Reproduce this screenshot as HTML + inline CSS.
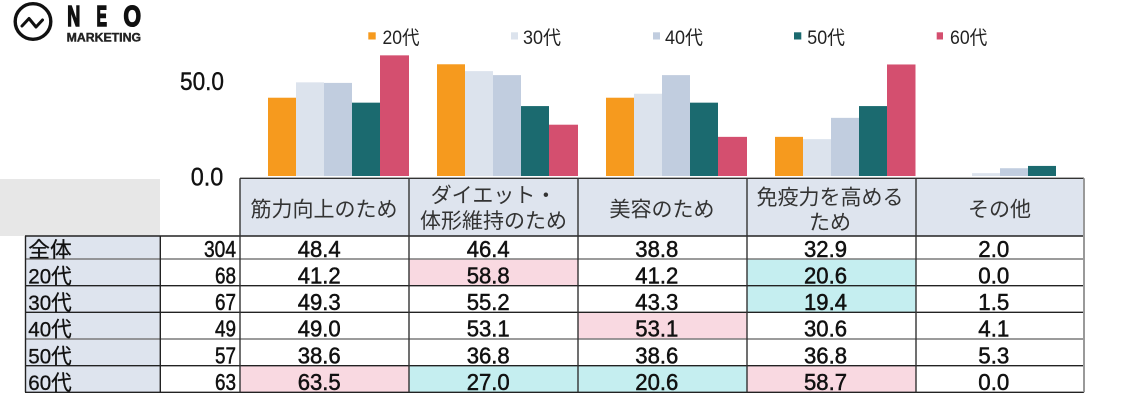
<!DOCTYPE html>
<html><head><meta charset="utf-8"><style>
html,body{margin:0;padding:0;background:#fff;}
svg{display:block;}
text{font-family:"Liberation Sans","Noto Sans CJK JP",sans-serif;}
</style></head><body>
<svg width="1124" height="400" viewBox="0 0 1124 400" xmlns="http://www.w3.org/2000/svg">
<rect x="0" y="0" width="1124" height="400" fill="#fff"/>
<!-- logo -->
<circle cx="33" cy="21.5" r="17.8" fill="none" stroke="#111" stroke-width="3.4"/>
<polyline points="22,26 29,18.5 36,27 42.5,20" fill="none" stroke="#111" stroke-width="3" stroke-linejoin="round" stroke-linecap="round"/>
<g fill="#111" stroke="#111" stroke-width="1.6" font-size="29" font-weight="bold">
<text x="67.3" y="26" textLength="13" lengthAdjust="spacingAndGlyphs">N</text>
<text x="96.5" y="26" textLength="10.5" lengthAdjust="spacingAndGlyphs">E</text>
<text x="123.5" y="26" textLength="17.5" lengthAdjust="spacingAndGlyphs">O</text>
</g>
<text x="66.7" y="41.7" font-size="11.8" font-weight="bold" fill="#222" stroke="#222" stroke-width="0.4" textLength="74.3" lengthAdjust="spacingAndGlyphs">MARKETING</text>

<!-- legend -->
<g font-size="19" fill="#222">
<rect x="368.3" y="32.3" width="7.4" height="7.2" fill="#F69A1E"/>
<text x="382.5" y="44" textLength="37" lengthAdjust="spacingAndGlyphs">20代</text>
<rect x="511" y="32.3" width="7" height="7.2" fill="#DCE3ED"/>
<text x="523" y="44" textLength="38" lengthAdjust="spacingAndGlyphs">30代</text>
<rect x="653" y="32.3" width="7" height="7.2" fill="#C1CDDF"/>
<text x="665" y="44" textLength="38" lengthAdjust="spacingAndGlyphs">40代</text>
<rect x="794" y="32.3" width="7.3" height="7.2" fill="#1B6A6F"/>
<text x="807.3" y="44" textLength="37.7" lengthAdjust="spacingAndGlyphs">50代</text>
<rect x="936.7" y="32.3" width="6.3" height="7.2" fill="#D44F6F"/>
<text x="950" y="44" textLength="37.3" lengthAdjust="spacingAndGlyphs">60代</text>
</g>

<!-- axis labels -->
<g font-size="25" fill="#111" stroke="#111" stroke-width="0.4">
<text x="180" y="90" textLength="44" lengthAdjust="spacingAndGlyphs">50.0</text>
<text x="190.7" y="185.7" textLength="32.6" lengthAdjust="spacingAndGlyphs">0.0</text>
</g>

<!-- bars -->
<g>
<rect x="268" y="97.72" width="28" height="78.28" fill="#F69A1E"/>
<rect x="296" y="82.33" width="28" height="93.67" fill="#DCE3ED"/>
<rect x="324" y="82.9" width="28" height="93.1" fill="#C1CDDF"/>
<rect x="352" y="102.66" width="28" height="73.34" fill="#1B6A6F"/>
<rect x="380" y="55.35" width="29" height="120.65" fill="#D44F6F"/>

<rect x="437" y="64.28" width="28" height="111.72" fill="#F69A1E"/>
<rect x="465" y="71.12" width="28" height="104.88" fill="#DCE3ED"/>
<rect x="493" y="75.11" width="28" height="100.89" fill="#C1CDDF"/>
<rect x="521" y="106.08" width="28" height="69.92" fill="#1B6A6F"/>
<rect x="549" y="124.7" width="29" height="51.3" fill="#D44F6F"/>

<rect x="606" y="97.72" width="28" height="78.28" fill="#F69A1E"/>
<rect x="634" y="93.73" width="28" height="82.27" fill="#DCE3ED"/>
<rect x="662" y="75.11" width="28" height="100.89" fill="#C1CDDF"/>
<rect x="690" y="102.66" width="28" height="73.34" fill="#1B6A6F"/>
<rect x="718" y="136.86" width="29" height="39.14" fill="#D44F6F"/>

<rect x="775" y="136.86" width="28" height="39.14" fill="#F69A1E"/>
<rect x="803" y="139.14" width="28" height="36.86" fill="#DCE3ED"/>
<rect x="831" y="117.86" width="28" height="58.14" fill="#C1CDDF"/>
<rect x="859" y="106.08" width="28" height="69.92" fill="#1B6A6F"/>
<rect x="887" y="64.47" width="28.5" height="111.53" fill="#D44F6F"/>

<rect x="972" y="173.15" width="28" height="2.85" fill="#DCE3ED"/>
<rect x="1000" y="168.21" width="28" height="7.79" fill="#C1CDDF"/>
<rect x="1028" y="165.93" width="28" height="10.07" fill="#1B6A6F"/>
</g>

<!-- left gray area -->
<rect x="0" y="179" width="160" height="57" fill="#E7E7E7"/>

<!-- header background -->
<rect x="240" y="178" width="844" height="58" fill="#DEE4EE"/>
<!-- label column -->
<rect x="25" y="236" width="135" height="156.3" fill="#DEE4EE"/>

<!-- highlights -->
<g>
<rect x="409" y="259" width="169" height="26.7" fill="#F9D9E1"/>
<rect x="747" y="259" width="169" height="26.7" fill="#C5EEF0"/>
<rect x="747" y="285.7" width="169" height="26.6" fill="#C5EEF0"/>
<rect x="578" y="312.3" width="169" height="26.7" fill="#F9D9E1"/>
<rect x="240" y="365.7" width="169" height="26.6" fill="#F9D9E1"/>
<rect x="409" y="365.7" width="169" height="26.6" fill="#C5EEF0"/>
<rect x="578" y="365.7" width="169" height="26.6" fill="#C5EEF0"/>
<rect x="747" y="365.7" width="169" height="26.6" fill="#F9D9E1"/>
</g>

<!-- grid lines -->
<g stroke-width="1.4">
<line x1="240" y1="178.3" x2="1084" y2="178.3" stroke="#333"/>
<line x1="25" y1="236" x2="1084" y2="236" stroke="#222"/>
<line x1="25" y1="259" x2="1084" y2="259" stroke="#7a7a7a"/>
<line x1="25" y1="285.7" x2="1084" y2="285.7" stroke="#222"/>
<line x1="25" y1="312.3" x2="1084" y2="312.3" stroke="#222"/>
<line x1="25" y1="339" x2="1084" y2="339" stroke="#7a7a7a"/>
<line x1="25" y1="365.7" x2="1084" y2="365.7" stroke="#222"/>
<line x1="25" y1="392.3" x2="1084" y2="392.3" stroke="#222"/>
<line x1="25.5" y1="236" x2="25.5" y2="392.3" stroke="#222"/>
<line x1="160.3" y1="236" x2="160.3" y2="392.3" stroke="#222"/>
<line x1="240" y1="178.3" x2="240" y2="392.3" stroke="#333"/>
<line x1="409" y1="178.3" x2="409" y2="392.3" stroke="#333"/>
<line x1="578" y1="178.3" x2="578" y2="392.3" stroke="#333"/>
<line x1="747" y1="178.3" x2="747" y2="392.3" stroke="#333"/>
<line x1="916" y1="178.3" x2="916" y2="392.3" stroke="#333"/>
<line x1="1084" y1="178.3" x2="1084" y2="392.3" stroke="#999" stroke-width="2"/>
</g>

<!-- header text -->
<g font-size="21" fill="#333" text-anchor="middle" font-family="'Noto Sans CJK JP',sans-serif">
<text x="324" y="216.3">筋力向上のため</text>
<text x="493.5" y="202.5">ダイエット・</text>
<text x="493.5" y="228">体形維持のため</text>
<text x="662" y="216.3">美容のため</text>
<text x="830" y="204.5">免疫力を高める</text>
<text x="830" y="229.5">ため</text>
<text x="999.5" y="216.3">その他</text>
</g>

<!-- row labels -->
<g font-size="21" fill="#111" stroke="#111" stroke-width="0.3">
<text x="28.3" y="257" textLength="43.4" lengthAdjust="spacingAndGlyphs">全体</text>
<text x="28.3" y="283.3" textLength="43.4" lengthAdjust="spacingAndGlyphs">20代</text>
<text x="28.3" y="310" textLength="43.4" lengthAdjust="spacingAndGlyphs">30代</text>
<text x="28.3" y="336.7" textLength="43.4" lengthAdjust="spacingAndGlyphs">40代</text>
<text x="28.3" y="363.3" textLength="43.4" lengthAdjust="spacingAndGlyphs">50代</text>
<text x="28.3" y="390" textLength="43.4" lengthAdjust="spacingAndGlyphs">60代</text>
</g>

<!-- N -->
<g font-size="23" fill="#111" stroke="#111" stroke-width="0.5">
<text x="204" y="257" textLength="32" lengthAdjust="spacingAndGlyphs">304</text>
<text x="215" y="283.3" textLength="21" lengthAdjust="spacingAndGlyphs">68</text>
<text x="215" y="310" textLength="21" lengthAdjust="spacingAndGlyphs">67</text>
<text x="215" y="336.7" textLength="21" lengthAdjust="spacingAndGlyphs">49</text>
<text x="215" y="363.3" textLength="21" lengthAdjust="spacingAndGlyphs">57</text>
<text x="215" y="390" textLength="21" lengthAdjust="spacingAndGlyphs">63</text>
</g>

<!-- data -->
<g font-size="23" fill="#111" stroke="#111" stroke-width="0.5">
<text x="297.7" y="257" textLength="43" lengthAdjust="spacingAndGlyphs">48.4</text>
<text x="297.7" y="283.3" textLength="43" lengthAdjust="spacingAndGlyphs">41.2</text>
<text x="297.7" y="310" textLength="43" lengthAdjust="spacingAndGlyphs">49.3</text>
<text x="297.7" y="336.7" textLength="43" lengthAdjust="spacingAndGlyphs">49.0</text>
<text x="297.7" y="363.3" textLength="43" lengthAdjust="spacingAndGlyphs">38.6</text>
<text x="297.7" y="390" textLength="43" lengthAdjust="spacingAndGlyphs">63.5</text>

<text x="466.7" y="257" textLength="43" lengthAdjust="spacingAndGlyphs">46.4</text>
<text x="466.7" y="283.3" textLength="43" lengthAdjust="spacingAndGlyphs">58.8</text>
<text x="466.7" y="310" textLength="43" lengthAdjust="spacingAndGlyphs">55.2</text>
<text x="466.7" y="336.7" textLength="43" lengthAdjust="spacingAndGlyphs">53.1</text>
<text x="466.7" y="363.3" textLength="43" lengthAdjust="spacingAndGlyphs">36.8</text>
<text x="466.7" y="390" textLength="43" lengthAdjust="spacingAndGlyphs">27.0</text>

<text x="635.3" y="257" textLength="43" lengthAdjust="spacingAndGlyphs">38.8</text>
<text x="635.3" y="283.3" textLength="43" lengthAdjust="spacingAndGlyphs">41.2</text>
<text x="635.3" y="310" textLength="43" lengthAdjust="spacingAndGlyphs">43.3</text>
<text x="635.3" y="336.7" textLength="43" lengthAdjust="spacingAndGlyphs">53.1</text>
<text x="635.3" y="363.3" textLength="43" lengthAdjust="spacingAndGlyphs">38.6</text>
<text x="635.3" y="390" textLength="43" lengthAdjust="spacingAndGlyphs">20.6</text>

<text x="804" y="257" textLength="43" lengthAdjust="spacingAndGlyphs">32.9</text>
<text x="804" y="283.3" textLength="43" lengthAdjust="spacingAndGlyphs">20.6</text>
<text x="804" y="310" textLength="43" lengthAdjust="spacingAndGlyphs">19.4</text>
<text x="804" y="336.7" textLength="43" lengthAdjust="spacingAndGlyphs">30.6</text>
<text x="804" y="363.3" textLength="43" lengthAdjust="spacingAndGlyphs">36.8</text>
<text x="804" y="390" textLength="43" lengthAdjust="spacingAndGlyphs">58.7</text>

<text x="978.3" y="257" textLength="31" lengthAdjust="spacingAndGlyphs">2.0</text>
<text x="978.3" y="283.3" textLength="31" lengthAdjust="spacingAndGlyphs">0.0</text>
<text x="978.3" y="310" textLength="31" lengthAdjust="spacingAndGlyphs">1.5</text>
<text x="978.3" y="336.7" textLength="31" lengthAdjust="spacingAndGlyphs">4.1</text>
<text x="978.3" y="363.3" textLength="31" lengthAdjust="spacingAndGlyphs">5.3</text>
<text x="978.3" y="390" textLength="31" lengthAdjust="spacingAndGlyphs">0.0</text>
</g>
</svg>
</body></html>
